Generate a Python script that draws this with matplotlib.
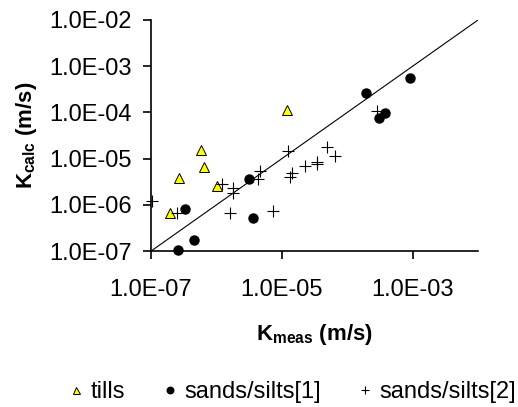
import numpy as np
import matplotlib
matplotlib.use("Agg")
from matplotlib import pyplot as plt
from matplotlib.ticker import FixedLocator, FuncFormatter

plt.rcParams['font.family'] = ['Liberation Sans', 'DejaVu Sans']
plt.rcParams['mathtext.fontset'] = 'custom'
plt.rcParams['mathtext.rm'] = 'Liberation Sans'
plt.rcParams['mathtext.bf'] = 'Liberation Sans:bold'

# log10 of K values
tills_meas = [-6.71, -6.57, -6.23, -6.19, -5.99, -4.92]
tills_calc = [-6.18, -5.41, -4.81, -5.17, -5.60, -3.94]

ss1_meas = [-6.59, -6.48, -6.35, -5.50, -5.44, -3.72, -3.52, -3.42, -3.04]
ss1_calc = [-6.98, -6.09, -6.76, -5.43, -6.29, -3.59, -4.13, -4.02, -3.26]

ss2_meas = [-6.98, -6.61, -5.92, -5.74, -5.75, -5.79, -5.34, -5.36, -5.13,
            -4.91, -4.85, -4.88, -4.65, -4.47, -4.46, -4.31, -4.19, -3.54]
ss2_calc = [-5.92, -6.18, -5.54, -5.64, -5.74, -6.17, -5.27, -5.43, -6.13,
            -4.84, -5.30, -5.39, -5.16, -5.08, -5.12, -4.74, -4.94, -3.97]

x_ticks = [1e-7, 1e-5, 1e-3]
y_ticks = [1e-7, 1e-6, 1e-5, 1e-4, 1e-3, 1e-2]
line_ends = [1e-7, 1e-2]

fig = plt.figure(figsize=(5.18, 4.07), dpi=100)
ax = fig.add_axes([0.2915, 0.383, 0.6315, 0.568])

ax.plot(line_ends, line_ends, color="black", linewidth=0.8)
ax.plot(10 ** np.array(tills_meas), 10 ** np.array(tills_calc), linestyle="none",
        marker="^", markersize=7, markerfacecolor="#ffff00", markeredgecolor="black",
        markeredgewidth=0.7, label="tills", clip_on=False, zorder=3)
ax.plot(10 ** np.array(ss1_meas), 10 ** np.array(ss1_calc), linestyle="none",
        marker="o", markersize=6.5, color="black", label="sands/silts[1]",
        clip_on=False, zorder=3)
ax.plot(10 ** np.array(ss2_meas), 10 ** np.array(ss2_calc), linestyle="none",
        marker="+", markersize=8, markeredgewidth=0.8, color="black",
        label="sands/silts[2]", clip_on=False, zorder=3)

ax.set_xscale("log")
ax.set_yscale("log")
ax.set_xlim(1e-7, 1e-2)
ax.set_ylim(1e-7, 1e-2)

fmt = FuncFormatter(lambda v, p: "%.1E" % v)
ax.xaxis.set_major_locator(FixedLocator(x_ticks))
ax.yaxis.set_major_locator(FixedLocator(y_ticks))
ax.xaxis.set_major_formatter(fmt)
ax.yaxis.set_major_formatter(fmt)
ax.xaxis.set_minor_locator(FixedLocator([]))
ax.yaxis.set_minor_locator(FixedLocator([]))
ax.tick_params(axis="both", direction="out", length=6, width=1.2, labelsize=17)
ax.tick_params(axis="y", pad=8)
ax.tick_params(axis="x", pad=14)

for side in ["top", "right"]:
    ax.spines[side].set_visible(False)
for side in ["left", "bottom"]:
    ax.spines[side].set_linewidth(1.2)

ax.set_xlabel(r"K$_{\mathbf{meas}}$ (m/s)", fontsize=16, fontweight="bold", labelpad=15)
ax.set_ylabel(r"K$_{\mathbf{calc}}$ (m/s)", fontsize=16, fontweight="bold", labelpad=7)

fig.legend(loc="center", bbox_to_anchor=(0.565, 0.037), ncol=3, frameon=False,
           fontsize=17, markerscale=0.72, handlelength=0.6, handletextpad=0.3,
           columnspacing=1.6)

plt.savefig("out.png", dpi=100)
